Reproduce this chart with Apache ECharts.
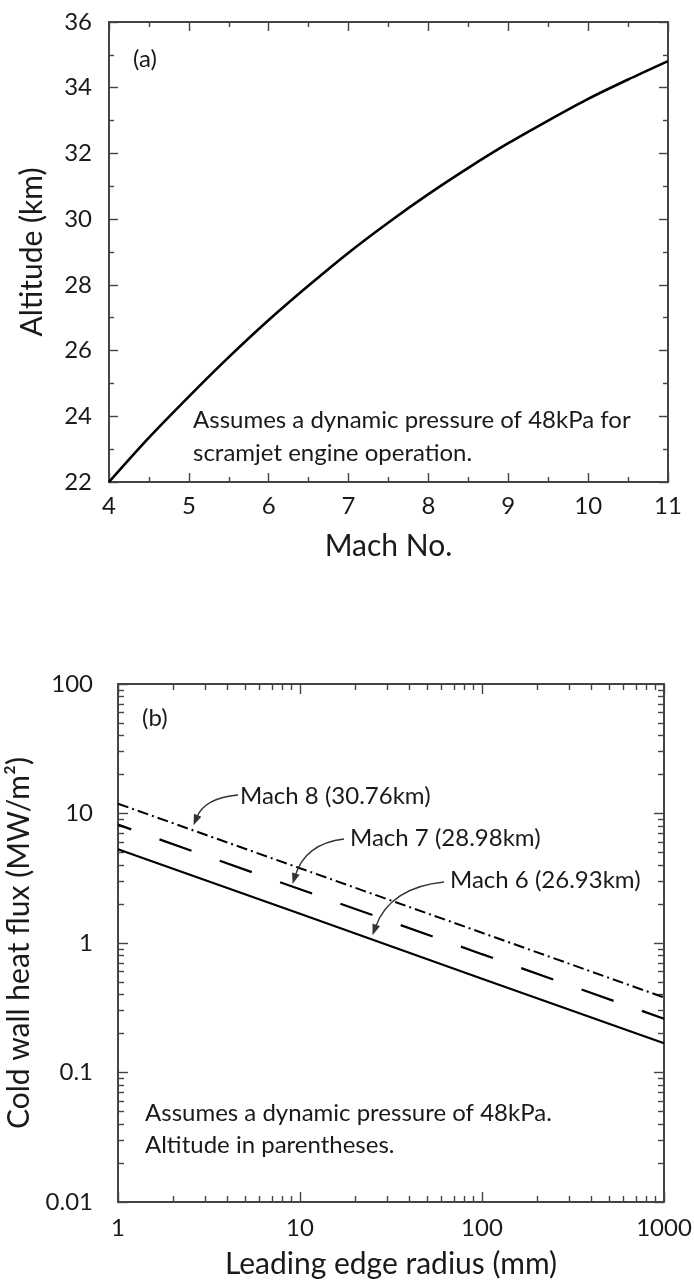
<!DOCTYPE html>
<html>
<head>
<meta charset="utf-8">
<script src="https://cdn.jsdelivr.net/npm/echarts@6/dist/echarts.min.js"></script>
<style>
  html, body { margin: 0; padding: 0; background: #fff; }
  #chart { width: 694px; height: 1288px; }
</style>
</head>
<body>
<div id="chart"></div>
<script>
// (a) flight altitude at constant dynamic pressure
const machNumbers = [4, 4.5, 5, 5.5, 6, 6.5, 7, 7.5, 8, 8.5, 9, 9.5, 10, 10.5, 11];
const altitudesKm = [22.0, 23.35, 24.6, 25.8, 26.93, 27.98, 28.98, 29.9, 30.76, 31.56, 32.31, 33.0, 33.66, 34.25, 34.81];

// (b) cold wall heat flux vs leading edge radius
const radiusMm = [1, 10, 100, 1000];
const fluxMach6 = [5.3, 1.68, 0.53, 0.168];
const fluxMach7 = [8.2, 2.6, 0.82, 0.26];
const fluxMach8 = [11.9, 3.78, 1.2, 0.38];

// tick labels
const machTicks = [4, 5, 6, 7, 8, 9, 10, 11];
const altitudeTicks = [22, 24, 26, 28, 30, 32, 34, 36];
const radiusTicks = [1, 10, 100, 1000];
const fluxTicks = [0.01, 0.1, 1, 10, 100];
const radiusMinorTicks = [2, 3, 4, 5, 6, 7, 8, 9, 20, 30, 40, 50, 60, 70, 80, 90, 200, 300, 400, 500, 600, 700, 800, 900];
const fluxMinorTicks = [0.02, 0.03, 0.04, 0.05, 0.06, 0.07, 0.08, 0.09, 0.2, 0.3, 0.4, 0.5, 0.6, 0.7, 0.8, 0.9,
  2, 3, 4, 5, 6, 7, 8, 9, 20, 30, 40, 50, 60, 70, 80, 90];

const FONT = 'Lato, "Open Sans", sans-serif';
const TEXT = '#1a1a1a';
const AXIS = '#444';

const chart = echarts.init(document.getElementById('chart'), null, { renderer: 'canvas' });

const lineAxis = { show: true, lineStyle: { color: AXIS, width: 2 } };
const noLine = { show: false };
const tickStyle = { color: AXIS, width: 1.4 };
const labelStyle = (margin) => ({ color: TEXT, fontFamily: FONT, fontSize: 24, margin: margin });
const nameStyle = { color: TEXT, fontFamily: FONT, fontSize: 30 };

function linAxis(gridIndex, position, min, max, interval, showLabels, name, nameGap, margin) {
  return {
    type: 'value', gridIndex, position, min, max, interval,
    axisLine: lineAxis,
    splitLine: { show: false },
    axisTick: { show: true, inside: true, length: 9, lineStyle: tickStyle },
    minorTick: { show: true, splitNumber: 2, length: 5, lineStyle: tickStyle },
    axisLabel: showLabels ? labelStyle(margin) : { show: false },
    name: name || '', nameLocation: 'middle', nameGap: nameGap || 0, nameTextStyle: nameStyle
  };
}

function logAxis(gridIndex, position, min, max, ticks, tickLen, withLine, showLabels, name, nameGap, margin) {
  return {
    type: 'log', logBase: 10, gridIndex, position, min, max,
    axisLine: withLine ? lineAxis : noLine,
    splitLine: { show: false },
    axisTick: { show: true, inside: true, length: tickLen, lineStyle: tickStyle, customValues: ticks },
    axisLabel: showLabels
      ? Object.assign(labelStyle(margin), { customValues: ticks, formatter: (v) => String(v) })
      : { show: false },
    name: name || '', nameLocation: 'middle', nameGap: nameGap || 0, nameTextStyle: nameStyle
  };
}

const option = {
  animation: false,
  backgroundColor: '#fff',
  grid: [
    { left: 109, top: 22, width: 559, height: 460, containLabel: false, outerBoundsMode: 'none' },
    { left: 118, top: 684, width: 546, height: 518, containLabel: false, outerBoundsMode: 'none' }
  ],
  xAxis: [
    linAxis(0, 'bottom', machTicks[0], machTicks[machTicks.length - 1], 1, true, 'Mach No.', 49, 12),
    linAxis(0, 'top', machTicks[0], machTicks[machTicks.length - 1], 1, false),
    logAxis(1, 'bottom', radiusTicks[0], radiusTicks[radiusTicks.length - 1], radiusTicks, 10, true, true, 'Leading edge radius (mm)', 47, 14),
    logAxis(1, 'top', radiusTicks[0], radiusTicks[radiusTicks.length - 1], radiusTicks, 10, true, false),
    logAxis(1, 'bottom', radiusTicks[0], radiusTicks[radiusTicks.length - 1], radiusMinorTicks, 6, false, false),
    logAxis(1, 'top', radiusTicks[0], radiusTicks[radiusTicks.length - 1], radiusMinorTicks, 6, false, false)
  ],
  yAxis: [
    linAxis(0, 'left', altitudeTicks[0], altitudeTicks[altitudeTicks.length - 1], 2, true, 'Altitude (km)', 62, 17),
    linAxis(0, 'right', altitudeTicks[0], altitudeTicks[altitudeTicks.length - 1], 2, false),
    logAxis(1, 'left', fluxTicks[0], fluxTicks[fluxTicks.length - 1], fluxTicks, 10, true, true, 'Cold wall heat flux (MW/m²)', 71, 25),
    logAxis(1, 'right', fluxTicks[0], fluxTicks[fluxTicks.length - 1], fluxTicks, 10, true, false),
    logAxis(1, 'left', fluxTicks[0], fluxTicks[fluxTicks.length - 1], fluxMinorTicks, 6, false, false),
    logAxis(1, 'right', fluxTicks[0], fluxTicks[fluxTicks.length - 1], fluxMinorTicks, 6, false, false)
  ],
  series: [
    {
      name: 'Altitude', type: 'line', xAxisIndex: 0, yAxisIndex: 0,
      data: machNumbers.map((m, i) => [m, altitudesKm[i]]),
      smooth: 0.3, showSymbol: false, symbol: 'none',
      lineStyle: { color: '#000', width: 2.6 }
    },
    {
      name: 'Mach 6', type: 'line', xAxisIndex: 2, yAxisIndex: 2,
      data: radiusMm.map((r, i) => [r, fluxMach6[i]]),
      showSymbol: false, symbol: 'none',
      lineStyle: { color: '#000', width: 2.2 }
    },
    {
      name: 'Mach 7', type: 'line', xAxisIndex: 2, yAxisIndex: 2,
      data: radiusMm.map((r, i) => [r, fluxMach7[i]]),
      showSymbol: false, symbol: 'none',
      lineStyle: { color: '#000', width: 2.2, type: [34, 30], dashOffset: 20 }
    },
    {
      name: 'Mach 8', type: 'line', xAxisIndex: 2, yAxisIndex: 2,
      data: radiusMm.map((r, i) => [r, fluxMach8[i]]),
      showSymbol: false, symbol: 'none',
      lineStyle: { color: '#000', width: 2, type: [11, 4, 2, 4] }
    }
  ]
};

chart.setOption(option);

// ---- annotations ----
function label(text, x, y, size) {
  return {
    type: 'text', silent: true, z: 10,
    style: {
      text, x, y, fill: TEXT, fontFamily: FONT, fontSize: size || 24,
      align: 'left', verticalAlign: 'middle', textAlign: 'left', textVerticalAlign: 'middle'
    }
  };
}

// curved leader with a filled head ending at a point on the plotted line
function leader(start, tipData) {
  const tip = chart.convertToPixel({ xAxisIndex: 2, yAxisIndex: 2 }, tipData);
  const cp = [tip[0] + (start[0] - tip[0]) * 0.25, start[1] + (tip[1] - start[1]) * 0.1];
  const dx = tip[0] - cp[0], dy = tip[1] - cp[1];
  const len = Math.hypot(dx, dy);
  const ux = dx / len, uy = dy / len;
  const headLen = 11, headHalf = 4;
  const bx = tip[0] - ux * headLen, by = tip[1] - uy * headLen;
  return [
    {
      type: 'bezierCurve', silent: true, z: 10,
      shape: { x1: start[0], y1: start[1], x2: bx + ux * 2, y2: by + uy * 2, cpx1: cp[0], cpy1: cp[1] },
      style: { stroke: '#333', lineWidth: 1.3, fill: null }
    },
    {
      type: 'polygon', silent: true, z: 10,
      shape: { points: [tip, [bx - uy * headHalf, by + ux * headHalf], [bx + uy * headHalf, by - ux * headHalf]] },
      style: { fill: '#333' }
    }
  ];
}

const graphics = [
  label('(a)', 133, 59),
  label('Assumes a dynamic pressure of 48kPa for', 193, 420),
  label('scramjet engine operation.', 193, 453),
  label('(b)', 142, 718),
  label('Mach 8 (30.76km)', 240, 796),
  label('Mach 7 (28.98km)', 350, 838),
  label('Mach 6 (26.93km)', 450, 880),
  label('Assumes a dynamic pressure of 48kPa.', 145, 1113),
  label('Altitude in parentheses.', 145, 1145)
].concat(
  leader([238, 795], [2.6, 8.1]),
  leader([344, 839], [9.1, 2.85]),
  leader([444, 882], [25, 1.15])
);

chart.setOption({ graphic: graphics });
</script>
</body>
</html>
